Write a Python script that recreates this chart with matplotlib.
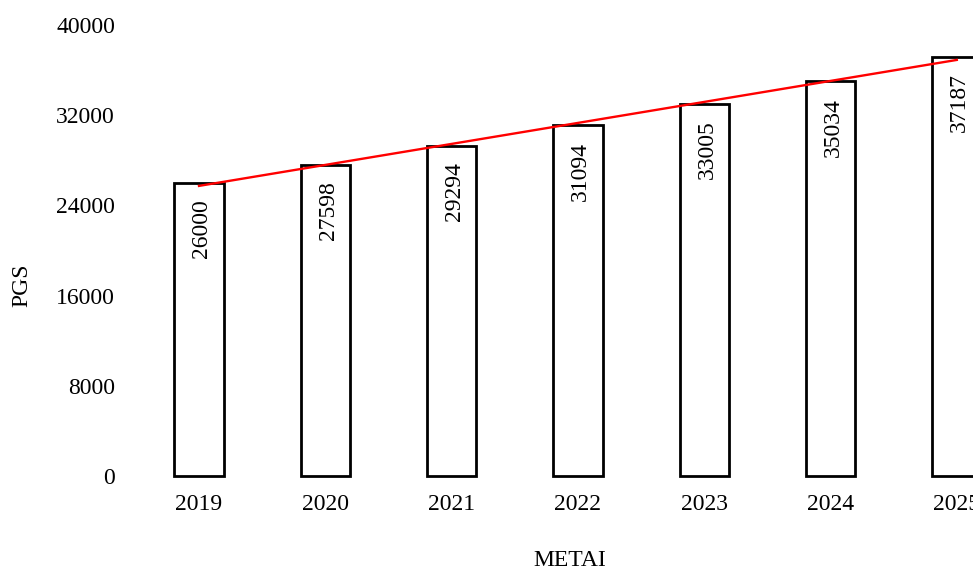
import matplotlib
matplotlib.use("Agg")
import matplotlib.pyplot as plt
import numpy as np

# data #########################################################################
years = ["2019", "2020", "2021", "2022", "2023", "2024", "2025"]
values = [26000, 27598, 29294, 31094, 33005, 35034, 37187]
y_ticks = [0, 8000, 16000, 24000, 32000, 40000]

plt.rcParams['font.family'] = ['Liberation Serif', 'DejaVu Serif']

W, H = 973, 571
fig = plt.figure(figsize=(W / 100, H / 100), dpi=100)
# axes spans past the right edge, as in the reference
left, right, top, bottom = 140, 1000, 25, 476
ax = fig.add_axes([left / W, (H - bottom) / H, (right - left) / W, (bottom - top) / H])

x = np.arange(len(years))
ax.bar(x, values, width=0.39, facecolor='white', edgecolor='black', linewidth=2.0,
       zorder=2, clip_on=False)

# trend line ###################################################################
k, b = np.polyfit(x, values, 1)
ax.plot([x[0], x[-1]], [k * x[0] + b, k * x[-1] + b], '-', c='red', linewidth=1.7, zorder=3)

for xi, v in zip(x, values):
    ax.annotate(str(v), (xi, v), xytext=(2, -12), textcoords='offset points',
                rotation=90, ha='center', va='top', fontsize=17, zorder=4)

# axis #########################################################################
x0 = (left - 199) / 126.3
x1 = (right - 199) / 126.3
ax.set_xlim(x0, x1)
ax.set_ylim(0, 40000)
ax.set_xticks(x)
ax.set_xticklabels(years)
ax.set_yticks(y_ticks)
ax.tick_params(axis='both', length=0, labelsize=17)
ax.tick_params(axis='y', pad=18)
ax.tick_params(axis='x', pad=13)
for s in ax.spines.values():
    s.set_visible(False)

ax.set_xlabel("METAI", fontsize=17)
ax.set_ylabel("PGS", fontsize=17)
ax.xaxis.set_label_coords((570 - left) / (right - left), -(561 - bottom) / (bottom - top), transform=ax.transAxes)
ax.yaxis.set_label_coords(-(left - 22) / (right - left), (bottom - 285) / (bottom - top), transform=ax.transAxes)
ax.xaxis.label.set_va('center')
ax.yaxis.label.set_va('center')

fig.savefig("out.png", dpi=100)
